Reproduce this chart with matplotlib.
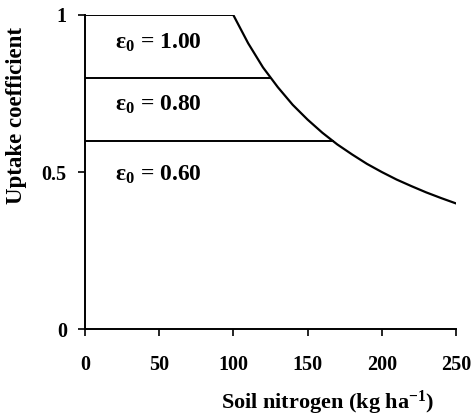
import matplotlib
matplotlib.use("Agg")
import matplotlib.pyplot as plt

plt.rcParams['font.family'] = ['Liberation Serif', 'DejaVu Serif']
plt.rcParams['font.weight'] = 'bold'
plt.rcParams['mathtext.fontset'] = 'custom'
plt.rcParams['mathtext.rm'] = 'Liberation Serif:bold'
plt.rcParams['mathtext.it'] = 'Liberation Serif:bold'
plt.rcParams['mathtext.bf'] = 'Liberation Serif:bold'

# uptake coefficient curve
soil_n = [100, 110, 120, 130, 140, 150, 160, 170, 180, 190, 200, 210, 220, 230, 240, 250]
uptake = [1.0, 0.91, 0.833, 0.77, 0.714, 0.667, 0.625, 0.588, 0.556, 0.526, 0.5,
          0.476, 0.455, 0.435, 0.417, 0.40]

# horizontal caps for each epsilon value, ending where they hit the curve
eps_levels = [1.00, 0.80, 0.60]
eps_ends = [100, 125, 167]
eps_text_y = [0.91, 0.713, 0.49]

fig = plt.figure(figsize=(4.74, 4.16), dpi=100)
ax = fig.add_axes([0.179, 0.209, 0.783, 0.755])

ax.plot(soil_n, uptake, color='black', lw=1.6)
for lev, xe, ty in zip(eps_levels, eps_ends, eps_text_y):
    ax.plot([0, xe], [lev, lev], color='black', lw=1.4)
    ax.text(20, ty, 'ε$_{0}$ = %.2f' % lev, fontsize=17, fontweight='bold',
            va='center', ha='left')

ax.set_xlim(0, 250)
ax.set_ylim(0, 1)
ax.set_xticks([0, 50, 100, 150, 200, 250])
ax.set_yticks([0, 0.5, 1])
ax.set_yticklabels(['0', '0.5', '1'])
ax.spines['top'].set_visible(False)
ax.spines['right'].set_visible(False)
ax.spines['left'].set_linewidth(1.4)
ax.spines['bottom'].set_linewidth(1.4)
ax.tick_params(direction='out', length=5, width=1.2, labelsize=14.5)
ax.tick_params(axis='x', pad=14)
ax.tick_params(axis='y', pad=8)
for lbl in ax.get_xticklabels() + ax.get_yticklabels():
    lbl.set_fontweight('bold')

ax.set_xlabel('Soil nitrogen (kg ha$^{-1}$)', fontsize=16, fontweight='bold')
ax.set_ylabel('Uptake coefficient', fontsize=16.5, fontweight='bold')
ax.xaxis.set_label_coords(0.655, -0.19)
ax.yaxis.set_label_coords(-0.155, 0.68)

fig.savefig('out.png', dpi=100)
